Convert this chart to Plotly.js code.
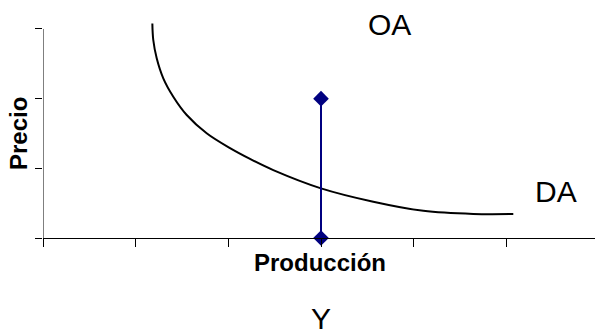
<!DOCTYPE html>
<html>
<head>
<meta charset="utf-8">
<script src="https://cdn.plot.ly/plotly-3.0.1.min.js"></script>
<style>html,body{margin:0;padding:0;background:#fff;}#chart{width:595px;height:333px;}</style>
</head>
<body>
<div id="chart"></div>
<script>
// Demand curve (DA)
const daX = [1.18, 1.19, 1.227, 1.298, 1.406, 1.551, 1.766, 2.018, 2.234, 2.485, 3.0, 3.564, 4.104, 4.643, 5.075];
const daY = [3.08, 2.842, 2.579, 2.292, 2.028, 1.765, 1.503, 1.29, 1.135, 0.975, 0.713, 0.521, 0.39, 0.345, 0.344];
// Vertical supply line (OA)
const oaX = [3, 3];
const oaY = [0, 2];
const xTicks = [0, 1, 2, 3, 4, 5];
const yTicks = [0, 1, 2, 3];
const labels = {oa: 'OA', da: 'DA', y: 'Y', xTitle: 'Producción', yTitle: 'Precio'};

const FONT = 'Liberation Sans, Arial, Helvetica, sans-serif';
const W = 595, H = 333;
const L = 43, T = 20, B = 95, R = 0;
const plotW = W - L - R, plotH = H - T - B;
const pxX = 92.67, pxY = 69.67;
function px(x){ return (x - L) / plotW; }
function py(y){ return (H - B - y) / plotH; }

const traces = [
  {x: daX, y: daY, mode: 'lines', line: {color: '#000', width: 2, shape: 'spline', smoothing: 1}, hoverinfo: 'skip', showlegend: false},
  {x: oaX, y: oaY, mode: 'lines+markers', line: {color: '#000080', width: 2}, marker: {symbol: 'diamond', size: 12, color: '#000080'}, cliponaxis: false, showlegend: false}
];

const layout = {
  width: W, height: H,
  margin: {l: L, r: R, t: T, b: B, pad: 0},
  paper_bgcolor: '#fff', plot_bgcolor: '#fff',
  showlegend: false,
  xaxis: {range: [0, plotW / pxX], tickvals: xTicks, showticklabels: false, ticks: 'outside', ticklen: 8, tickcolor: '#000', tickwidth: 1,
          showgrid: false, zeroline: false, showline: true, linecolor: '#000', linewidth: 1, fixedrange: true},
  yaxis: {range: [0, plotH / pxY], tickvals: yTicks, showticklabels: false, ticks: 'outside', ticklen: 7, tickcolor: '#000', tickwidth: 1,
          showgrid: false, zeroline: false, showline: false, fixedrange: true},
  shapes: [
    {type: 'line', xref: 'x', yref: 'y', x0: 0, x1: 0, y0: 0, y1: yTicks[yTicks.length - 1], line: {color: '#000', width: 1}}
  ],
  annotations: [
    {text: labels.oa, xref: 'paper', yref: 'paper', x: px(389.5), y: py(24), xanchor: 'center', yanchor: 'middle', showarrow: false, font: {family: FONT, size: 30, color: '#000'}},
    {text: labels.da, xref: 'paper', yref: 'paper', x: px(556), y: py(192), xanchor: 'center', yanchor: 'middle', showarrow: false, font: {family: FONT, size: 30, color: '#000'}},
    {text: labels.y, xref: 'paper', yref: 'paper', x: px(321), y: py(318.5), xanchor: 'center', yanchor: 'middle', showarrow: false, font: {family: FONT, size: 30, color: '#000'}},
    {text: '<b>' + labels.xTitle + '</b>', xref: 'paper', yref: 'paper', x: px(320), y: py(262), xanchor: 'center', yanchor: 'middle', showarrow: false, font: {family: FONT, size: 24, color: '#000'}},
    {text: '<b>' + labels.yTitle + '</b>', xref: 'paper', yref: 'paper', x: px(18.5), y: py(133.5), xanchor: 'center', yanchor: 'middle', textangle: -90, showarrow: false, font: {family: FONT, size: 24, color: '#000'}}
  ]
};

Plotly.newPlot('chart', traces, layout, {displayModeBar: false, staticPlot: true});
</script>
</body>
</html>
